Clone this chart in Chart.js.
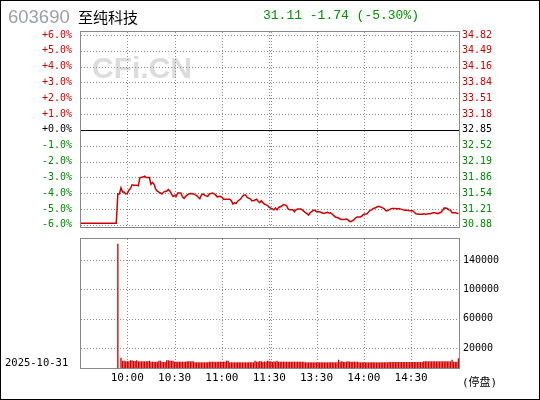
<!DOCTYPE html>
<html>
<head>
<meta charset="utf-8">
<script src="https://cdn.jsdelivr.net/npm/chart.js@4.4.1/dist/chart.umd.min.js"></script>
<style>
  body { margin: 0; background: #fff; }
  #wrap { position: relative; width: 540px; height: 400px; overflow: hidden; }
  #wrap canvas { position: absolute; left: 0; top: 0; }
  .txt { position: absolute; white-space: nowrap; line-height: 1; }
  #frame { position: absolute; left: 0; top: 0; width: 540px; height: 400px; border: 1px solid #000; box-sizing: border-box; pointer-events: none; }
</style>
</head>
<body>
<div id="wrap">
  <canvas id="price" width="540" height="400"></canvas>
  <canvas id="vol" width="540" height="400"></canvas>
  <div class="txt" style="left:8px;top:6px;font:18.5px 'Liberation Sans',Arial,sans-serif;color:#9d9daa;">603690</div>
  <div class="txt" style="left:78px;top:6px;font:15px 'Noto Sans CJK SC',sans-serif;color:#000;">至纯科技</div>
  <div class="txt" style="left:263px;top:8px;font:13px 'Liberation Mono',monospace;color:#009000;">31.11 -1.74 (-5.30%)</div>
  <div class="txt" style="left:5px;top:356px;font:10.5px 'DejaVu Sans Mono',monospace;color:#000;">2025-10-31</div>
  <div class="txt" style="left:462px;top:373px;font:11px 'DejaVu Sans Mono','Noto Sans CJK SC',monospace;color:#000;">(停盘)</div>
  <div id="frame"></div>
</div>
<script>
// 昨收
const prevClose = 32.85;

// 分时 (minute index from 9:30, price)
const minutes = [0, 23, 24, 25, 26, 27, 28, 29, 30, 31, 32, 33, 34, 36, 37, 38, 40, 41, 42, 44,
  45, 46, 47, 48, 49, 50, 51, 52, 53, 55, 56, 57, 58, 59, 60, 61, 62, 64, 65, 66,
  67, 69, 70, 72, 73, 74, 75, 76, 77, 78, 79, 80, 81, 82, 84, 85, 86, 87, 89, 90,
  91, 92, 95, 96, 97, 98, 99, 100, 102, 103, 104, 105, 106, 108, 109, 110, 112, 113, 114, 115,
  116, 117, 119, 120, 122, 123, 124, 125, 126, 128, 129, 131, 132, 133, 135, 136, 137, 138, 140, 141,
  143, 144, 145, 146, 148, 149, 150, 152, 154, 155, 157, 158, 159, 160, 161, 162, 164, 165, 166, 168,
  169, 170, 171, 172, 174, 175, 176, 178, 179, 180, 182, 184, 185, 186, 187, 189, 190, 192, 193, 194,
  195, 197, 198, 200, 201, 202, 203, 205, 206, 208, 209, 211, 212, 213, 215, 217, 218, 219, 221, 222,
  224, 225, 227, 228, 229, 230, 231, 233, 234, 235, 236, 238, 240];
const prices = [30.91, 30.91, 31.52, 31.52, 31.65, 31.56, 31.56, 31.52, 31.53, 31.60, 31.63, 31.71, 31.70, 31.70, 31.69, 31.86, 31.87, 31.89, 31.86, 31.86,
  31.72, 31.76, 31.72, 31.62, 31.58, 31.56, 31.54, 31.52, 31.56, 31.58, 31.61, 31.58, 31.52, 31.47, 31.49, 31.47, 31.54, 31.54, 31.46, 31.43,
  31.47, 31.52, 31.53, 31.52, 31.50, 31.49, 31.45, 31.42, 31.50, 31.52, 31.49, 31.48, 31.47, 31.52, 31.54, 31.52, 31.50, 31.46, 31.47, 31.45,
  31.41, 31.41, 31.41, 31.38, 31.31, 31.34, 31.32, 31.37, 31.42, 31.47, 31.50, 31.50, 31.45, 31.42, 31.38, 31.38, 31.41, 31.37, 31.34, 31.38,
  31.34, 31.31, 31.28, 31.24, 31.21, 31.19, 31.23, 31.19, 31.24, 31.27, 31.30, 31.28, 31.21, 31.19, 31.19, 31.15, 31.19, 31.21, 31.21, 31.19,
  31.13, 31.11, 31.08, 31.13, 31.18, 31.18, 31.15, 31.15, 31.12, 31.12, 31.14, 31.12, 31.13, 31.10, 31.07, 31.04, 31.02, 31.00, 30.99, 30.99,
  31.00, 30.98, 30.95, 30.95, 30.99, 31.03, 31.04, 31.04, 31.07, 31.10, 31.11, 31.18, 31.19, 31.22, 31.23, 31.26, 31.26, 31.23, 31.21, 31.17,
  31.17, 31.21, 31.22, 31.22, 31.21, 31.22, 31.21, 31.19, 31.18, 31.18, 31.17, 31.17, 31.14, 31.11, 31.10, 31.10, 31.11, 31.10, 31.11, 31.11,
  31.13, 31.13, 31.11, 31.13, 31.14, 31.18, 31.23, 31.22, 31.19, 31.18, 31.13, 31.13, 31.11];

// 成交量, one bar per minute starting at volStart
const volStart = 24;
const volumes = [162000, null, 6800, 2700, 2700, 1800, 1800, 1800, 3200, 3200,
  2300, 2300, 3200, 1800, 1800, 1800, 1800, 1800, 1800, 1800,
  2700, 1400, 1400, 1400, 1400, 900, 2700, 2700, 900, 900,
  900, 3200, 3200, 2700, 2700, 2700, 1400, 1400, 1400, 1400,
  1400, 1400, 1400, 1400, 1800, 1800, 1800, 1800, 1800, 500,
  500, 500, 500, 500, 500, 500, 500, 500, 1400, 1400,
  1400, 1400, 900, 1400, 1400, 1400, 1400, 1400, 1400, 2700,
  2700, 500, 500, 500, 500, 500, 500, 500, 500, 500,
  500, 500, 500, 500, 500, 500, 500, 2700, 1400, 1400,
  1800, 1800, 900, 1800, 1400, 2700, 1800, 1800, 900, 1800,
  1400, 2700, 1400, 1400, 1400, 1400, 1400, 1400, 1400, 1400,
  1400, 1400, 1400, 1400, 1400, 1400, 1400, 1400, 1400, 500,
  500, 500, 500, 500, 500, 500, 500, 500, 500, 500,
  500, 500, 500, 500, 500, 500, 500, 500, 500, 500,
  4100, 1400, 1800, 1400, 900, 1400, 1800, 1400, 1400, 1400,
  1400, 1400, 1400, 500, 500, 500, 500, 500, 500, 500,
  500, 500, 500, 500, 500, 500, 500, 500, 500, 500,
  500, 500, 900, 900, 900, 900, 900, 900, 900, 900,
  900, 900, 900, 900, 900, 900, 900, 900, 900, 900,
  900, 900, 900, 900, 1800, 1800, 1800, 1800, 1800, 1800,
  1800, 1800, 1800, 1800, 1800, 1800, 1800, 1800, 1800, 1800,
  1800, 1800, 4100, 1400, 900, 1400, 6000];

// axes
const pctTicks = [6, 5, 4, 3, 2, 1, 0, -1, -2, -3, -4, -5, -6];
const timeTicks = [30, 60, 90, 120, 121, 150, 180, 210];
const timeLabels = ['10:00', '10:30', '11:00', '11:30', '', '13:30', '14:00', '14:30'];
const volTicks = [20000, 60000, 100000, 140000];

const RED = '#d00000';
const GREEN = '#008800';
const GRID = '#8c8c8c';
const mono = { family: "'DejaVu Sans Mono', monospace", size: 10 };
const noGrid = { display: false, drawTicks: false };

function pctColor(v) {
  if (v > 0) return RED;
  if (v < 0) return GREEN;
  return '#000';
}

// watermark, dotted grid, zero line and the grey box round the plot
const framePlugin = {
  id: 'frame',
  beforeDraw(chart, args, opts) {
    if (!opts.mark) return;
    const ctx = chart.ctx;
    ctx.save();
    ctx.fillStyle = '#dcdcdc';
    ctx.font = "bold 30px 'Liberation Sans', Arial, sans-serif";
    ctx.fillText('CFi.CN', 92, 78);
    ctx.restore();
  },
  beforeDatasetsDraw(chart, args, opts) {
    const ctx = chart.ctx;
    const a = chart.chartArea;
    const top = Math.round(a.top), bottom = Math.round(a.bottom);
    const left = Math.round(a.left), right = Math.round(a.right);
    ctx.save();
    ctx.fillStyle = GRID;
    // one-pixel dots, every third pixel
    timeTicks.forEach(v => {
      const x = Math.round(chart.scales.x.getPixelForValue(v));
      for (let y = top + 1; y < bottom; y += 3) ctx.fillRect(x, y, 1, 1);
    });
    opts.yTicks.forEach(v => {
      const y = Math.round(chart.scales.y.getPixelForValue(v));
      for (let x = left + 1; x < right; x += 3) ctx.fillRect(x, y, 1, 1);
    });
    ctx.restore();
  },
  afterDraw(chart, args, opts) {
    const ctx = chart.ctx;
    const a = chart.chartArea;
    ctx.save();
    if (opts.zero) {
      const y = Math.round(chart.scales.y.getPixelForValue(0)) + 0.5;
      ctx.strokeStyle = '#000';
      ctx.lineWidth = 1;
      ctx.beginPath();
      ctx.moveTo(a.left, y);
      ctx.lineTo(a.right, y);
      ctx.stroke();
    }
    ctx.strokeStyle = '#888';
    ctx.lineWidth = 1;
    ctx.strokeRect(Math.round(a.left) + 0.5, Math.round(a.top) + 0.5,
      Math.round(a.right - a.left) - 1, Math.round(a.bottom - a.top) - 1);
    ctx.restore();
  }
};

const timeAxis = (showLabels) => ({
  type: 'linear',
  min: 0,
  max: 241,
  offset: false,
  afterBuildTicks: s => { s.ticks = timeTicks.map(v => ({ value: v })); },
  afterFit: s => { s.height = showLabels ? 31 : 0; },
  ticks: {
    display: showLabels,
    autoSkip: false,
    maxRotation: 0,
    padding: 3,
    color: '#000',
    font: { family: "'DejaVu Sans Mono', monospace", size: 11 },
    callback: v => timeLabels[timeTicks.indexOf(v)]
  },
  grid: noGrid,
  border: { display: false }
});

new Chart(document.getElementById('price'), {
  type: 'line',
  data: {
    datasets: [{
      data: minutes.map((m, i) => ({ x: m, y: (prices[i] / prevClose - 1) * 100 })),
      borderColor: RED,
      borderWidth: 1.5,
      pointRadius: 0,
      tension: 0,
      yAxisID: 'y'
    }]
  },
  options: {
    responsive: false,
    animation: false,
    events: [],
    layout: { padding: { top: 31, bottom: 172, left: 0, right: 0 } },
    plugins: {
      legend: { display: false },
      tooltip: { enabled: false },
      frame: { zero: true, mark: true, yTicks: pctTicks }
    },
    scales: {
      x: timeAxis(false),
      y: {
        position: 'left',
        min: -6.2,
        max: 6.25,
        afterBuildTicks: s => { s.ticks = pctTicks.map(v => ({ value: v })); },
        afterFit: s => { s.width = 80; },
        ticks: {
          padding: 8,
          font: mono,
          color: c => pctColor(c.tick.value),
          callback: v => (v >= 0 ? '+' : '') + v.toFixed(1) + '%'
        },
        grid: noGrid,
        border: { display: false }
      },
      y2: {
        position: 'right',
        min: -6.2,
        max: 6.25,
        afterBuildTicks: s => { s.ticks = pctTicks.map(v => ({ value: v })); },
        afterFit: s => { s.width = 80; },
        ticks: {
          padding: 2,
          font: mono,
          color: c => pctColor(c.tick.value),
          callback: v => (prevClose * (1 + v / 100)).toFixed(2)
        },
        grid: noGrid,
        border: { display: false }
      }
    }
  },
  plugins: [framePlugin]
});

const volMin = -8600;

new Chart(document.getElementById('vol'), {
  type: 'bar',
  data: {
    datasets: [{
      data: volumes.map((v, i) => ({ x: volStart + i, y: v })),
      backgroundColor: RED,
      base: volMin,
      barPercentage: 1,
      categoryPercentage: 0.85
    }]
  },
  options: {
    responsive: false,
    animation: false,
    events: [],
    layout: { padding: { top: 238, bottom: 0, left: 80, right: 0 } },
    plugins: {
      legend: { display: false },
      tooltip: { enabled: false },
      frame: { zero: false, mark: false, yTicks: volTicks }
    },
    scales: {
      x: timeAxis(true),
      y: {
        position: 'right',
        min: volMin,
        max: 170000,
        afterBuildTicks: s => { s.ticks = volTicks.map(v => ({ value: v })); },
        afterFit: s => { s.width = 80; },
        ticks: { padding: 3, font: mono, color: '#000', callback: v => String(v) },
        grid: noGrid,
        border: { display: false }
      }
    }
  },
  plugins: [framePlugin]
});
</script>
</body>
</html>
